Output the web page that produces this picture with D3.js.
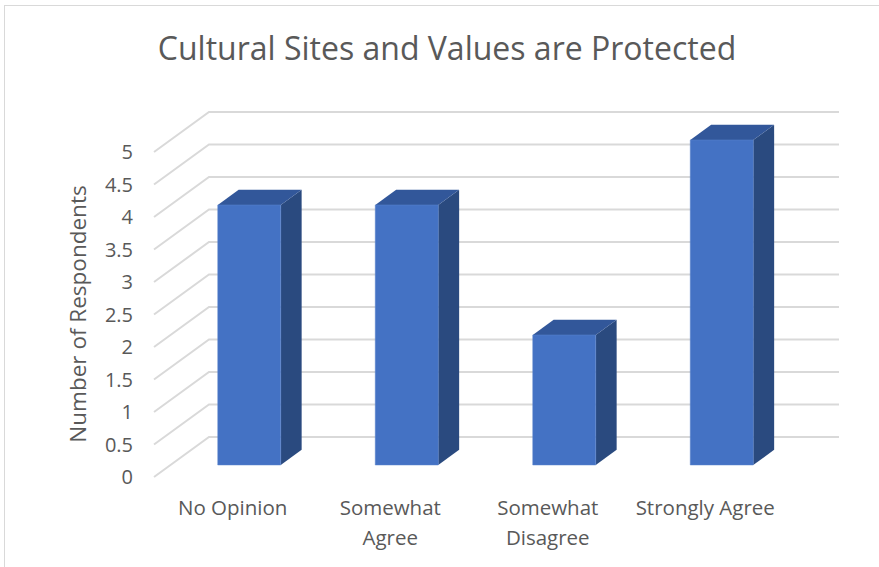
<!DOCTYPE html>
<html>
<head>
<meta charset="utf-8">
<script src="https://cdn.jsdelivr.net/npm/d3@7/dist/d3.min.js"></script>
<style>
  html, body { margin: 0; padding: 0; background: #fff; }
  svg { display: block; }
  text { font-family: "Open Sans", "Noto Sans", sans-serif; fill: #595959; }
</style>
</head>
<body>
<svg id="chart" width="879" height="567"></svg>
<script>
// Survey responses
const categories = ["No Opinion", "Somewhat Agree", "Somewhat Disagree", "Strongly Agree"];
const categoryLines = [["No Opinion"], ["Somewhat", "Agree"], ["Somewhat", "Disagree"], ["Strongly Agree"]];
const respondents = [4, 4, 2, 5];
const yTicks = [0, 0.5, 1, 1.5, 2, 2.5, 3, 3.5, 4, 4.5, 5];
const titleText = "Cultural Sites and Values are Protected";
const yTitle = "Number of Respondents";

const W = 879, H = 567;
const svg = d3.select("#chart");

// Chart frame
svg.append("rect")
  .attr("x", 4.5).attr("y", 5.5).attr("width", W + 10).attr("height", H + 10)
  .attr("fill", "#fff").attr("stroke", "#d9d9d9").attr("stroke-width", 1);

// Front plane of the plot: floor front-left corner and width
const frontLeft = 154, frontRight = 784;
const depthDx = 55, depthDy = -40;   // oblique depth vector (front -> back wall)

const y = d3.scaleLinear().domain([0, 5]).range([477, 152]);
const x = d3.scaleBand().domain(categories).range([frontLeft, frontRight]).paddingInner(0).paddingOuter(0);

// project a point at front-x, value, and depth fraction d (0 = front, 1 = back wall)
const P = (fx, v, d) => [fx + d * depthDx, y(v) + d * depthDy];

// Gridlines: side wall diagonals + back wall horizontals
const grid = svg.append("g").attr("stroke", "#d9d9d9").attr("stroke-width", 2).attr("fill", "none");
yTicks.forEach(t => {
  const a = P(frontLeft, t, 0), b = P(frontLeft, t, 1), c = P(frontRight, t, 1);
  grid.append("path").attr("d", `M${a[0]},${a[1]}L${b[0]},${b[1]}L${c[0]},${c[1]}`);
});

// Y tick labels
svg.append("g").selectAll("text").data(yTicks).join("text")
  .attr("x", 133).attr("y", d => y(d)).attr("dy", "0.36em")
  .attr("text-anchor", "end").attr("font-size", 20)
  .text(d => d);

// 3D columns
const dFront = 0.3, dBack = 0.68;
const barFrac = 0.4;
const bars = svg.append("g");
categories.forEach((cat, i) => {
  const v = respondents[i];
  const x0 = x(cat) + x.bandwidth() * (1 - barFrac) / 2;
  const x1 = x0 + x.bandwidth() * barFrac;
  const f0 = P(x0, 0, dFront), f1 = P(x1, 0, dFront), f2 = P(x1, v, dFront), f3 = P(x0, v, dFront);
  const b1 = P(x1, 0, dBack), b2 = P(x1, v, dBack), b3 = P(x0, v, dBack);
  const poly = pts => "M" + pts.map(p => p.join(",")).join("L") + "Z";
  // right side
  bars.append("path").attr("d", poly([f1, b1, b2, f2])).attr("fill", "#2a4a7f");
  // top
  bars.append("path").attr("d", poly([f3, f2, b2, b3])).attr("fill", "#32579a");
  // front face
  bars.append("path").attr("d", poly([f0, f1, f2, f3])).attr("fill", "#4472c4")
    .attr("stroke", "#5b84cc").attr("stroke-width", 0.5);
});

// Category labels
const xl = svg.append("g");
categories.forEach((cat, i) => {
  const cx = x(cat) + x.bandwidth() / 2;
  const t = xl.append("text").attr("x", cx).attr("y", 515)
    .attr("text-anchor", "middle").attr("font-size", 20.5);
  categoryLines[i].forEach((ln, j) => {
    t.append("tspan").attr("x", cx).attr("dy", j === 0 ? 0 : 30).text(ln);
  });
});

// Axis title
svg.append("text")
  .attr("transform", "translate(86,314) rotate(-90)")
  .attr("text-anchor", "middle").attr("font-size", 22.5)
  .text(yTitle);

// Chart title
svg.append("text")
  .attr("x", 447).attr("y", 60)
  .attr("text-anchor", "middle").attr("font-size", 32)
  .text(titleText);
</script>
</body>
</html>
